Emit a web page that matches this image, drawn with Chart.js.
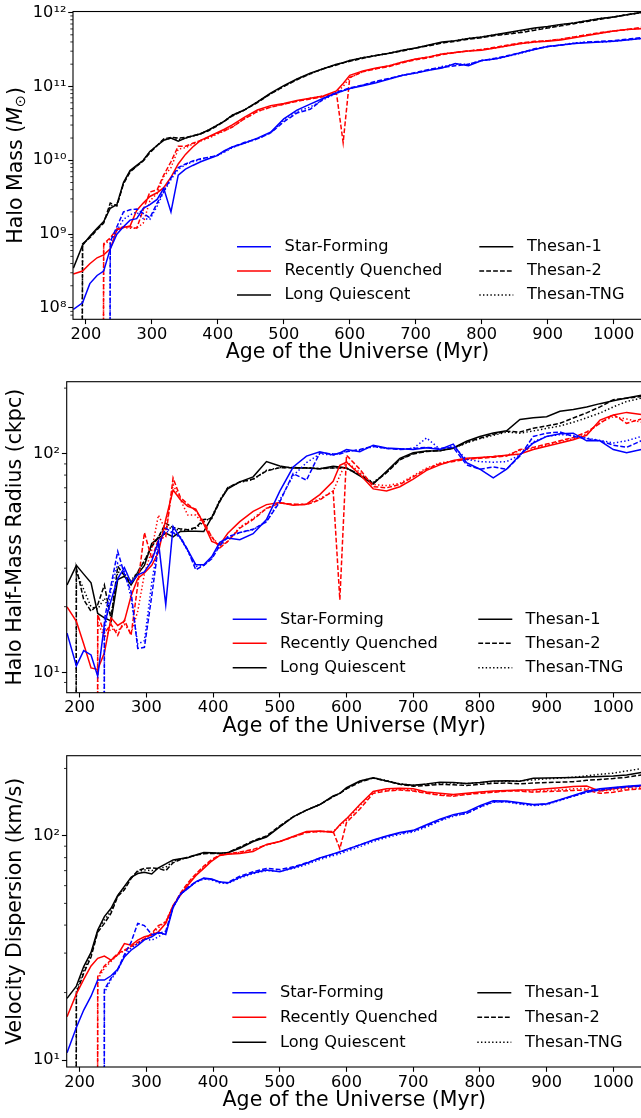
<!DOCTYPE html>
<html>
<head>
<meta charset="utf-8">
<title>Halo growth by quenching class</title>
<script src="https://cdn.jsdelivr.net/npm/chart.js@4.4.1/dist/chart.umd.min.js"></script>
<style>
  html, body { margin: 0; padding: 0; background: #fff; }
  body { width: 641px; height: 1118px; overflow: hidden; position: relative; }
  canvas { position: absolute; left: 0; }
</style>
</head>
<body>
<canvas id="massChart" width="644" height="370" style="top:0px;width:644px;height:370px"></canvas>
<canvas id="radiusChart" width="644" height="374" style="top:370px;width:644px;height:374px"></canvas>
<canvas id="sigmaChart" width="644" height="374" style="top:744px;width:644px;height:374px"></canvas>
<script>
// Snapshot ages of the Universe (Myr)
const ages = [181, 195, 206, 217, 227, 237, 247, 257, 267, 277, 287, 297,
  308, 318, 329, 340, 351, 362, 374, 386, 398, 410, 422,
  440, 460, 480, 500, 520, 540, 560, 580, 590, 600,
  620, 640, 660, 680, 700, 720, 740, 760, 780, 800,
  820, 840, 860, 880, 900, 920, 940, 960, 980, 1000, 1020, 1042];

// null = halo not yet identified at that snapshot (plotted as a drop to the axis floor)

// log10 halo mass [M_sun]
const logMassSF1 = [7.98, 8.07, 8.33, 8.44, 8.5, 8.8, 9.0, 9.1, 9.19, 9.21, 9.35, 9.4,
  9.47, 9.62, 9.3, 9.8, 9.88, 9.93, 9.98, 10.02, 10.06, 10.13, 10.18,
  10.23, 10.3, 10.38, 10.56, 10.68, 10.76, 10.84, 10.91, 10.94, 10.97,
  11.01, 11.05, 11.1, 11.15, 11.18, 11.22, 11.25, 11.31, 11.28, 11.35,
  11.37, 11.41, 11.46, 11.5, 11.54, 11.56, 11.58, 11.59, 11.6, 11.61, 11.63, 11.65];
const logMassSF2 = [null, null, null, null, null, 8.9, 9.1, 9.3, 9.33, 9.34, 9.28, 9.22,
  9.42, 9.58, 9.76, 9.9, 9.95, 9.99, 10.02, 10.04, 10.06, 10.12, 10.18,
  10.24, 10.29, 10.37, 10.52, 10.64, 10.69, 10.83, 10.92, 10.95, 10.98,
  11.02, 11.07, 11.11, 11.15, 11.19, 11.23, 11.26, 11.28, 11.3, 11.35,
  11.38, 11.42, 11.46, 11.51, 11.54, 11.56, 11.58, 11.6, 11.61, 11.62, 11.64, 11.66];
const logMassSFT = [null, null, null, null, null, 8.88, 9.05, 9.2, 9.26, 9.3, 9.21, 9.2,
  9.38, 9.57, 9.74, 9.88, 9.94, 9.98, 10.01, 10.04, 10.06, 10.11, 10.17,
  10.23, 10.29, 10.37, 10.54, 10.66, 10.72, 10.82, 10.91, 10.94, 10.97,
  11.02, 11.06, 11.1, 11.15, 11.18, 11.22, 11.27, 11.3, 11.3, 11.35,
  11.37, 11.41, 11.45, 11.5, 11.54, 11.56, 11.59, 11.6, 11.6, 11.61, 11.63, 11.65];
const logMassRQ1 = [8.46, 8.5, 8.6, 8.68, 8.72, 8.8, 9.06, 9.09, 9.11, 9.32, 9.42, 9.51,
  9.56, 9.63, 9.77, 9.95, 10.08, 10.18, 10.27, 10.32, 10.37, 10.42, 10.48,
  10.58, 10.68, 10.74, 10.77, 10.81, 10.84, 10.87, 10.94, 11.04, 11.15,
  11.21, 11.25, 11.28, 11.33, 11.37, 11.4, 11.44, 11.46, 11.48, 11.49,
  11.52, 11.55, 11.58, 11.6, 11.61, 11.63, 11.66, 11.69, 11.72, 11.75, 11.77, 11.78];
const logMassRQ2 = [null, null, null, null, 8.87, 8.95, 9.07, 9.1, 9.1, 9.08, 9.33, 9.57,
  9.6, 9.8, 9.98, 10.19, 10.19, 10.23, 10.27, 10.31, 10.36, 10.4, 10.45,
  10.56, 10.66, 10.72, 10.76, 10.8, 10.83, 10.86, 10.9, 10.24, 11.12,
  11.2, 11.24, 11.27, 11.32, 11.36, 11.39, 11.43, 11.46, 11.48, 11.5,
  11.53, 11.56, 11.59, 11.61, 11.62, 11.64, 11.67, 11.7, 11.73, 11.75, 11.77, 11.8];
const logMassRQT = [null, null, null, null, 8.85, 8.93, 9.05, 9.09, 9.08, 9.08, 9.15, 9.45,
  9.55, 9.78, 9.9, 10.15, 10.17, 10.22, 10.26, 10.3, 10.35, 10.4, 10.45,
  10.56, 10.66, 10.72, 10.76, 10.8, 10.84, 10.87, 10.92, 11.0, 11.12,
  11.2, 11.24, 11.28, 11.33, 11.37, 11.4, 11.44, 11.46, 11.48, 11.5,
  11.52, 11.55, 11.58, 11.6, 11.62, 11.64, 11.67, 11.7, 11.72, 11.75, 11.77, 11.79];
const logMassLQ1 = [8.54, 8.85, 8.97, 9.08, 9.17, 9.35, 9.4, 9.7, 9.86, 9.93, 10.0, 10.12,
  10.2, 10.27, 10.3, 10.26, 10.3, 10.33, 10.36, 10.41, 10.47, 10.53, 10.61,
  10.68, 10.79, 10.91, 11.01, 11.1, 11.18, 11.24, 11.3, 11.32, 11.35,
  11.39, 11.42, 11.45, 11.49, 11.52, 11.56, 11.6, 11.62, 11.65, 11.67,
  11.7, 11.73, 11.76, 11.79, 11.81, 11.84, 11.86, 11.89, 11.92, 11.94, 11.97, 12.0];
const logMassLQ2 = [null, 8.87, 8.95, 9.06, 9.15, 9.42, 9.38, 9.68, 9.84, 9.92, 9.99, 10.1,
  10.2, 10.29, 10.31, 10.3, 10.31, 10.33, 10.36, 10.4, 10.46, 10.53, 10.6,
  10.68, 10.78, 10.9, 11.0, 11.09, 11.17, 11.24, 11.29, 11.32, 11.34,
  11.38, 11.42, 11.45, 11.48, 11.52, 11.55, 11.59, 11.61, 11.64, 11.66,
  11.69, 11.71, 11.73, 11.76, 11.79, 11.82, 11.85, 11.88, 11.91, 11.94, 11.97, 12.0];
const logMassLQT = [null, 8.86, 8.96, 9.07, 9.16, 9.38, 9.4, 9.69, 9.85, 9.92, 10.0, 10.11,
  10.2, 10.28, 10.3, 10.28, 10.3, 10.33, 10.36, 10.41, 10.47, 10.53, 10.61,
  10.68, 10.79, 10.9, 11.0, 11.1, 11.17, 11.24, 11.3, 11.32, 11.35,
  11.39, 11.42, 11.45, 11.49, 11.52, 11.56, 11.59, 11.62, 11.65, 11.67,
  11.7, 11.72, 11.75, 11.78, 11.8, 11.83, 11.86, 11.89, 11.92, 11.94, 11.97, 12.0];

// log10 halo half-mass radius [ckpc]
const logRadSF1 = [1.18, 1.03, 1.10, 1.08, 0.983, 1.22, 1.33, 1.43, 1.48, 1.41, 1.447, 1.46,
  1.51, 1.60, 1.31, 1.668, 1.615, 1.56, 1.493, 1.493, 1.53, 1.595, 1.615,
  1.607, 1.635, 1.70, 1.83, 1.94, 1.99, 2.01, 1.995, 2.005, 2.02,
  2.01, 2.04, 2.027, 2.024, 2.02, 2.028, 2.02, 2.045, 1.96, 1.93,
  1.89, 1.93, 1.995, 2.05, 2.08, 2.092, 2.095, 2.06, 2.06, 2.02, 2.005, 2.02];
const logRadSF2 = [null, null, null, null, null, 1.24, 1.40, 1.554, 1.45, 1.37, 1.11, 1.115,
  1.35, 1.58, 1.66, 1.64, 1.62, 1.56, 1.47, 1.49, 1.52, 1.58, 1.62,
  1.64, 1.655, 1.69, 1.78, 1.91, 1.88, 2.005, 2.0, 2.0, 2.01,
  2.02, 2.035, 2.025, 2.02, 2.025, 2.03, 2.025, 2.03, 1.95, 1.93,
  1.94, 1.93, 1.99, 2.08, 2.095, 2.1, 2.08, 2.07, 2.06, 2.04, 2.03, 2.06];
const logRadSFT = [null, null, null, null, null, 1.18, 1.38, 1.5, 1.47, 1.34, 1.13, 1.145,
  1.41, 1.6, 1.645, 1.64, 1.615, 1.555, 1.485, 1.49, 1.525, 1.585, 1.62,
  1.64, 1.653, 1.69, 1.79, 1.9, 1.96, 2.0, 1.995, 2.003, 2.013,
  2.017, 2.033, 2.025, 2.022, 2.025, 2.073, 2.022, 2.035, 1.975, 1.965,
  1.962, 1.965, 1.995, 2.055, 2.08, 2.088, 2.085, 2.072, 2.062, 2.05, 2.06, 2.08];
const logRadRQ1 = [1.30, 1.234, 1.13, 1.021, 1.014, 1.09, 1.25, 1.215, 1.235, 1.35, 1.43, 1.455,
  1.49, 1.55, 1.70, 1.835, 1.79, 1.76, 1.747, 1.68, 1.60, 1.585, 1.637,
  1.69, 1.737, 1.768, 1.778, 1.765, 1.77, 1.814, 1.875, 1.948, 1.962,
  1.906, 1.84, 1.83, 1.85, 1.885, 1.925, 1.95, 1.97, 1.98, 1.984,
  1.988, 1.994, 2.0, 2.02, 2.035, 2.05, 2.065, 2.085, 2.155, 2.178, 2.19, 2.18];
const logRadRQ2 = [null, null, null, null, 1.265, 1.18, 1.22, 1.17, 1.24, 1.17, 1.40, 1.64,
  1.52, 1.61, 1.62, 1.89, 1.80, 1.77, 1.74, 1.69, 1.62, 1.57, 1.60,
  1.66, 1.70, 1.75, 1.775, 1.77, 1.768, 1.79, 1.83, 1.333, 1.994,
  1.93, 1.85, 1.845, 1.86, 1.895, 1.93, 1.955, 1.965, 1.975, 1.98,
  1.985, 1.99, 2.02, 2.03, 2.045, 2.06, 2.075, 2.1, 2.14, 2.18, 2.14, 2.16];
const logRadRQT = [null, null, null, null, 1.23, 1.16, 1.2, 1.19, 1.22, 1.18, 1.28, 1.45,
  1.56, 1.72, 1.65, 1.86, 1.79, 1.72, 1.72, 1.68, 1.62, 1.58, 1.60,
  1.665, 1.705, 1.752, 1.776, 1.768, 1.77, 1.795, 1.83, 1.9, 1.965,
  1.915, 1.86, 1.855, 1.865, 1.9, 1.935, 1.958, 1.968, 1.978, 1.982,
  1.988, 1.993, 2.015, 2.025, 2.04, 2.055, 2.07, 2.09, 2.145, 2.17, 2.16, 2.145];
const logRadLQ1 = [1.40, 1.49, 1.45, 1.41, 1.27, 1.25, 1.236, 1.425, 1.44, 1.40, 1.45, 1.49,
  1.59, 1.615, 1.638, 1.62, 1.645, 1.646, 1.646, 1.645, 1.71, 1.785, 1.84,
  1.872, 1.895, 1.965, 1.945, 1.935, 1.935, 1.932, 1.944, 1.94, 1.936,
  1.9, 1.862, 1.92, 1.98, 2.005, 2.013, 2.015, 2.027, 2.058, 2.08,
  2.096, 2.106, 2.158, 2.165, 2.17, 2.195, 2.203, 2.215, 2.23, 2.243, 2.256, 2.268];
const logRadLQ2 = [null, 1.478, 1.333, 1.28, 1.31, 1.40, 1.242, 1.486, 1.443, 1.41, 1.46, 1.51,
  1.576, 1.62, 1.683, 1.663, 1.657, 1.653, 1.663, 1.70, 1.704, 1.782, 1.846,
  1.872, 1.885, 1.922, 1.937, 1.937, 1.937, 1.932, 1.936, 1.935, 1.935,
  1.906, 1.866, 1.914, 1.973, 2.0, 2.011, 2.015, 2.025, 2.053, 2.072,
  2.09, 2.104, 2.10, 2.117, 2.128, 2.14, 2.164, 2.188, 2.215, 2.248, 2.255, 2.263];
const logRadLQT = [null, 1.46, 1.38, 1.30, 1.29, 1.34, 1.26, 1.46, 1.45, 1.42, 1.46, 1.51,
  1.58, 1.62, 1.67, 1.655, 1.652, 1.65, 1.66, 1.69, 1.71, 1.79, 1.845,
  1.87, 1.883, 1.925, 1.938, 1.938, 1.936, 1.933, 1.937, 1.936, 1.933,
  1.905, 1.87, 1.915, 1.975, 2.002, 2.012, 2.017, 2.025, 2.05, 2.07,
  2.085, 2.1, 2.095, 2.105, 2.117, 2.128, 2.145, 2.165, 2.187, 2.215, 2.24, 2.255];

// log10 velocity dispersion [km/s]
const logSigSF1 = [1.033, 1.145, 1.223, 1.285, 1.357, 1.357, 1.376, 1.405, 1.46, 1.49, 1.512, 1.536,
  1.55, 1.57, 1.56, 1.68, 1.74, 1.765, 1.795, 1.812, 1.808, 1.795, 1.79,
  1.815, 1.835, 1.848, 1.84, 1.858, 1.878, 1.902, 1.92, 1.929, 1.94,
  1.96, 1.982, 2.0, 2.015, 2.025, 2.05, 2.075, 2.095, 2.107, 2.135,
  2.157, 2.156, 2.148, 2.14, 2.144, 2.162, 2.18, 2.199, 2.21, 2.216, 2.222, 2.226];
const logSigSF2 = [null, null, null, null, null, 1.315, 1.365, 1.405, 1.47, 1.525, 1.61, 1.6,
  1.56, 1.565, 1.575, 1.685, 1.74, 1.77, 1.795, 1.81, 1.806, 1.793, 1.792,
  1.82, 1.84, 1.855, 1.85, 1.862, 1.88, 1.9, 1.918, 1.927, 1.938,
  1.96, 1.98, 1.998, 2.012, 2.022, 2.045, 2.07, 2.092, 2.1, 2.13,
  2.152, 2.153, 2.145, 2.138, 2.142, 2.16, 2.178, 2.195, 2.205, 2.212, 2.218, 2.222];
const logSigSFT = [null, null, null, null, null, 1.3, 1.36, 1.4, 1.465, 1.5, 1.52, 1.54,
  1.535, 1.55, 1.57, 1.68, 1.738, 1.768, 1.793, 1.808, 1.803, 1.79, 1.788,
  1.812, 1.832, 1.845, 1.842, 1.855, 1.872, 1.895, 1.912, 1.92, 1.932,
  1.952, 1.975, 1.993, 2.007, 2.018, 2.04, 2.067, 2.088, 2.1, 2.128,
  2.15, 2.152, 2.142, 2.135, 2.14, 2.158, 2.177, 2.195, 2.207, 2.214, 2.22, 2.225];
const logSigRQ1 = [1.193, 1.295, 1.36, 1.42, 1.454, 1.464, 1.446, 1.47, 1.52, 1.512, 1.535, 1.55,
  1.558, 1.572, 1.61, 1.69, 1.735, 1.78, 1.822, 1.855, 1.888, 1.913, 1.918,
  1.922, 1.93, 1.962, 1.975, 1.998, 2.02, 2.022, 2.015, 2.05, 2.077,
  2.14, 2.198, 2.21, 2.213, 2.21, 2.196, 2.19, 2.185, 2.19, 2.196,
  2.2, 2.203, 2.205, 2.206, 2.21, 2.215, 2.22, 2.223, 2.2, 2.21, 2.218, 2.223];
const logSigRQ2 = [null, null, null, null, 1.372, 1.42, 1.446, 1.475, 1.49, 1.507, 1.525, 1.54,
  1.565, 1.60, 1.615, 1.685, 1.745, 1.79, 1.83, 1.865, 1.895, 1.915, 1.92,
  1.928, 1.94, 1.96, 1.975, 1.995, 2.015, 2.02, 2.02, 1.943, 2.06,
  2.12, 2.19, 2.2, 2.205, 2.2, 2.19, 2.182, 2.177, 2.185, 2.19,
  2.195, 2.2, 2.2, 2.195, 2.198, 2.2, 2.203, 2.205, 2.19, 2.195, 2.205, 2.21];
const logSigRQT = [null, null, null, null, 1.36, 1.41, 1.44, 1.47, 1.488, 1.505, 1.52, 1.54,
  1.56, 1.59, 1.62, 1.688, 1.742, 1.785, 1.826, 1.86, 1.892, 1.914, 1.92,
  1.926, 1.937, 1.96, 1.975, 1.996, 2.017, 2.02, 2.02, 2.045, 2.07,
  2.135, 2.195, 2.205, 2.208, 2.204, 2.192, 2.184, 2.18, 2.187, 2.192,
  2.197, 2.201, 2.203, 2.2, 2.203, 2.206, 2.21, 2.212, 2.2, 2.205, 2.21, 2.215];
const logSigLQ1 = [1.275, 1.33, 1.417, 1.48, 1.58, 1.64, 1.677, 1.735, 1.775, 1.815, 1.832, 1.838,
  1.83, 1.858, 1.875, 1.893, 1.898, 1.903, 1.915, 1.926, 1.925, 1.923, 1.925,
  1.945, 1.975, 1.995, 2.04, 2.085, 2.115, 2.14, 2.178, 2.19, 2.215,
  2.245, 2.26, 2.245, 2.232, 2.226, 2.232, 2.24, 2.238, 2.234, 2.238,
  2.245, 2.246, 2.244, 2.257, 2.258, 2.259, 2.261, 2.263, 2.265, 2.267, 2.272, 2.283];
const logSigLQ2 = [null, 1.298, 1.387, 1.46, 1.57, 1.61, 1.655, 1.73, 1.76, 1.81, 1.845, 1.855,
  1.857, 1.855, 1.845, 1.88, 1.895, 1.905, 1.915, 1.92, 1.922, 1.922, 1.926,
  1.95, 1.978, 2.0, 2.045, 2.085, 2.115, 2.14, 2.175, 2.19, 2.21,
  2.24, 2.258, 2.245, 2.23, 2.222, 2.225, 2.23, 2.228, 2.225, 2.23,
  2.235, 2.236, 2.232, 2.236, 2.238, 2.24, 2.242, 2.248, 2.252, 2.256, 2.262, 2.272];
const logSigLQT = [null, 1.31, 1.4, 1.47, 1.575, 1.625, 1.665, 1.733, 1.768, 1.812, 1.84, 1.848,
  1.845, 1.857, 1.86, 1.887, 1.897, 1.904, 1.915, 1.923, 1.924, 1.922, 1.925,
  1.948, 1.976, 1.997, 2.042, 2.085, 2.115, 2.14, 2.176, 2.19, 2.212,
  2.243, 2.26, 2.247, 2.232, 2.226, 2.23, 2.236, 2.236, 2.233, 2.237,
  2.242, 2.244, 2.245, 2.25, 2.255, 2.258, 2.262, 2.268, 2.275, 2.28, 2.29, 2.3];

// Axis ticks and legend text
const xTicks = [200, 300, 400, 500, 600, 700, 800, 900, 1000];
const massTicks = [1e8, 1e9, 1e10, 1e11, 1e12];
const massTickLabels = ['10⁸', '10⁹', '10¹⁰', '10¹¹', '10¹²'];
const decadeTicks = [10, 100];
const decadeTickLabels = ['10¹', '10²'];
const classNames = ['Star-Forming', 'Recently Quenched', 'Long Quiescent'];
const simNames = ['Thesan-1', 'Thesan-2', 'Thesan-TNG'];

// ---- styling ----
const FONT = "'DejaVu Sans', sans-serif";
const CLASS_COLORS = ['#0000ff', '#ff0000', '#000000'];
const SIM_DASHES = [[], [4.8, 2.1], [1.4, 2.3]];
const LINE_W = 1.5;
const TICK_SIZE = 16.2;
const TITLE_SIZE = 20.5;
const NOT_FORMED = 1e-30;

Chart.defaults.font.family = FONT;
Chart.defaults.color = '#000';

function buildSets(table) {
  const sets = [];
  table.forEach((sims, c) => sims.forEach((vals, s) => {
    sets.push({
      data: vals.map((v, i) => ({ x: ages[i], y: v === null ? NOT_FORMED : Math.pow(10, v) })),
      borderColor: CLASS_COLORS[c],
      borderDash: SIM_DASHES[s],
      borderWidth: LINE_W,
      borderCapStyle: 'butt',
      pointRadius: 0,
      tension: 0,
      fill: false
    });
  }));
  return sets;
}

function minorTicks(min, max) {
  const out = [];
  for (let e = Math.floor(Math.log10(min)); e <= Math.ceil(Math.log10(max)); e++) {
    for (let m = 2; m <= 9; m++) {
      const v = m * Math.pow(10, e);
      if (v > min && v < max) out.push(v);
    }
  }
  return out;
}

function drawRotatedTitle(ctx, parts, cx, cy) {
  ctx.save();
  ctx.translate(cx, cy);
  ctx.rotate(-Math.PI / 2);
  ctx.textBaseline = 'middle';
  ctx.textAlign = 'left';
  ctx.fillStyle = '#000';
  let total = 0;
  for (const p of parts) { ctx.font = p.font; total += ctx.measureText(p.text).width; }
  let x = -total / 2;
  for (const p of parts) {
    ctx.font = p.font;
    ctx.fillText(p.text, x, p.dy || 0);
    x += ctx.measureText(p.text).width;
  }
  ctx.restore();
}

function decorPlugin(panel) {
  return {
    id: 'panelDecor',
    afterDraw(chart) {
      const { ctx, chartArea: a } = chart;
      const y = chart.scales.y;
      ctx.save();
      // minor ticks on the log axis
      ctx.strokeStyle = '#000';
      ctx.lineWidth = 0.8;
      ctx.setLineDash([]);
      ctx.beginPath();
      for (const v of minorTicks(y.min, y.max)) {
        const py = y.getPixelForValue(v);
        ctx.moveTo(a.left, py);
        ctx.lineTo(a.left - 2.7, py);
      }
      ctx.stroke();
      // axes frame
      ctx.lineWidth = 1.1;
      ctx.strokeRect(a.left, a.top, a.right - a.left, a.bottom - a.top);
      // two-column legend: classes (colour) and simulations (line style)
      const L = panel.legend;
      ctx.font = `${TICK_SIZE}px ${FONT}`;
      ctx.textBaseline = 'middle';
      ctx.textAlign = 'left';
      ctx.fillStyle = '#000';
      ctx.lineWidth = LINE_W;
      ctx.lineCap = 'butt';
      L.rows.forEach((dy, r) => {
        const yy = a.bottom + dy;
        ctx.strokeStyle = CLASS_COLORS[r];
        ctx.setLineDash([]);
        ctx.beginPath(); ctx.moveTo(L.col1, yy); ctx.lineTo(L.col1 + L.sample, yy); ctx.stroke();
        ctx.fillText(classNames[r], L.col1 + L.textGap, yy);
        ctx.strokeStyle = '#000';
        ctx.setLineDash(SIM_DASHES[r]);
        ctx.beginPath(); ctx.moveTo(L.col2, yy); ctx.lineTo(L.col2 + L.sample, yy); ctx.stroke();
        ctx.setLineDash([]);
        ctx.fillText(simNames[r], L.col2 + L.textGap, yy);
      });
      ctx.restore();
      drawRotatedTitle(ctx, panel.yTitle, panel.yTitleX, (a.top + a.bottom) / 2);
    }
  };
}

function makePanel(canvasId, panel) {
  const tickFont = { family: FONT, size: TICK_SIZE, lineHeight: 1.2 };
  new Chart(document.getElementById(canvasId), {
    type: 'line',
    data: { datasets: buildSets(panel.table) },
    plugins: [decorPlugin(panel)],
    options: {
      responsive: false,
      animation: false,
      events: [],
      layout: { padding: { top: panel.padTop, right: 2, bottom: 0, left: 0 } },
      plugins: { legend: { display: false }, tooltip: { enabled: false } },
      scales: {
        x: {
          type: 'linear', min: 180.5, max: 1043, bounds: 'data',
          afterBuildTicks: s => { s.ticks = xTicks.map(v => ({ value: v })); },
          afterFit: s => { s.height = panel.xHeight; },
          ticks: { font: tickFont, color: '#000', padding: 1, maxRotation: 0, autoSkip: false,
                   callback: v => String(v) },
          grid: { drawOnChartArea: false, tickLength: 4.8, tickWidth: 1.1, tickColor: '#000' },
          border: { display: false },
          title: { display: true, text: 'Age of the Universe (Myr)', color: '#000',
                   font: { family: FONT, size: TITLE_SIZE, lineHeight: 1.2 },
                   padding: { top: 0, bottom: 4.7 } }
        },
        y: {
          type: 'logarithmic', min: panel.yMin, max: panel.yMax, bounds: 'data',
          afterBuildTicks: s => { s.ticks = panel.yTicks.map(v => ({ value: v })); },
          afterFit: s => { s.width = panel.left; },
          ticks: { font: tickFont, color: '#000', padding: 1.8, autoSkip: false,
                   callback: (v, i) => panel.yLabels[i] },
          grid: { drawOnChartArea: false, tickLength: 4.8, tickWidth: 1.1, tickColor: '#000' },
          border: { display: false }
        }
      }
    }
  });
}

const titleFont = `${TITLE_SIZE}px ${FONT}`;

makePanel('massChart', {
  table: [[logMassSF1, logMassSF2, logMassSFT], [logMassRQ1, logMassRQ2, logMassRQT], [logMassLQ1, logMassLQ2, logMassLQT]],
  padTop: 11, xHeight: 50.7, left: 73,
  yMin: 7.03e7, yMax: 1.033e12, yTicks: massTicks, yLabels: massTickLabels,
  yTitleX: 17,
  yTitle: [
    { text: 'Halo Mass (', font: titleFont },
    { text: 'M', font: `italic ${TITLE_SIZE}px ${FONT}` },
    { text: '⊙', font: `14.4px ${FONT}`, dy: 4 },
    { text: ')', font: titleFont }
  ],
  legend: { rows: [-72.6, -48.3, -24.3], col1: 237, col2: 479.3, sample: 34, textGap: 47.6 }
});

makePanel('radiusChart', {
  table: [[logRadSF1, logRadSF2, logRadSFT], [logRadRQ1, logRadRQ2, logRadRQT], [logRadLQ1, logRadLQ2, logRadLQT]],
  padTop: 11.7, xHeight: 51.3, left: 66.7,
  yMin: 8.08, yMax: 214, yTicks: decadeTicks, yLabels: decadeTickLabels,
  yTitleX: 16,
  yTitle: [{ text: 'Halo Half-Mass Radius (ckpc)', font: titleFont }],
  legend: { rows: [-73.4, -49.4, -25], col1: 232.7, col2: 478.3, sample: 34, textGap: 47.3 }
});

makePanel('sigmaChart', {
  table: [[logSigSF1, logSigSF2, logSigSFT], [logSigRQ1, logSigRQ2, logSigRQT], [logSigLQ1, logSigLQ2, logSigLQT]],
  padTop: 11.7, xHeight: 51, left: 66.7,
  yMin: 9.31, yMax: 228, yTicks: decadeTicks, yLabels: decadeTickLabels,
  yTitleX: 16,
  yTitle: [{ text: 'Velocity Dispersion (km/s)', font: titleFont }],
  legend: { rows: [-74.3, -49.7, -24.7], col1: 232.3, col2: 477.3, sample: 34, textGap: 47.6 }
});
</script>
</body>
</html>
